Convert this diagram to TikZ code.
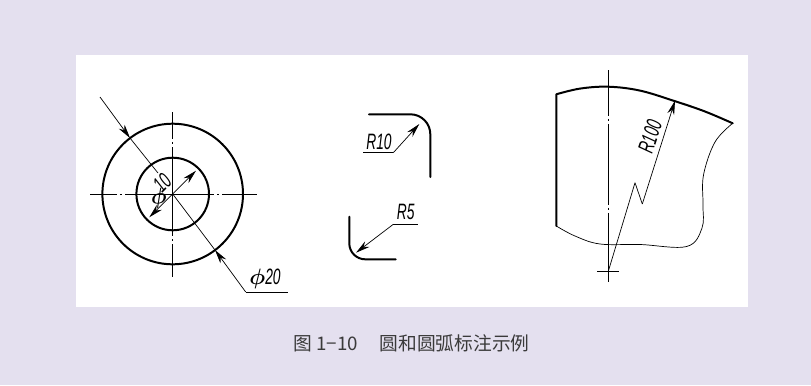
\documentclass[tikz,border=0pt]{standalone}
\usepackage{graphicx}
\usepackage{fontspec}
\setmainfont{Liberation Sans}
\newfontfamily\cjk{Noto Sans CJK SC}
\usetikzlibrary{
		arrows.meta,
		calc
	}
\definecolor{pagebg}{HTML}{E4E0EF}
\definecolor{captiongray}{HTML}{3A3A3A}
\newcommand{\dimtext}[1]{\scalebox{0.62}[1]{\fontsize{19pt}{19pt}\selectfont\itshape #1}}
\newcommand{\dimphi}{\scalebox{1.9}{\boldmath$\phi$}}
\tikzset{
		>={Stealth[length=12pt,width=6pt]},
		outline/.style={line width=1.7pt,line join=round,line cap=round},
		thinline/.style={line width=0.6pt,line join=round},
		axisline/.style={line width=0.55pt,dash pattern=on 23pt off 2.5pt on 2pt off 2.5pt on 76pt off 2.5pt on 2pt off 2.5pt on 30pt}
	}

\begin{document}
\begin{tikzpicture}[x=0.03cm,y=-0.03cm]
          \fill[pagebg] (0,0) rectangle (811,385);
          \useasboundingbox (0,0) rectangle (811,385);
          \fill[white] (76,55) rectangle (748,307);

          % circles
          \coordinate (C) at (172.7,194);
          \coordinate (HL) at (90,194);
          \coordinate (HR) at (257,194);
          \coordinate (VT) at (172.7,112);
          \coordinate (VB) at (172.7,277);
          \coordinate (OS) at (100,97);
          \coordinate (OT) at (130,138);
          \coordinate (OE) at (158,173);
          \coordinate (LT) at (215,250);
          \coordinate (LK) at (245.7,292);
          \coordinate (LE) at (288,292);
          \coordinate (IA) at (149.3,217.3);
          \coordinate (IB) at (196,170.7);

          \draw[outline] (C) circle [radius=70.3];
          \draw[outline] (C) circle [radius=36.3];
          \draw[axisline] (HL) -- (HR);
          \draw[axisline] (VT) -- (VB);
          \draw[thinline,->] (OS) -- (OT);
          \draw[thinline] (OT) -- (OE);
          \draw[thinline] (C) -- (LT);
          \draw[thinline,->] (LK) -- (LT);
          \draw[thinline] (LK) -- (LE);
          \draw[thinline,<->] (IA) -- (IB);
          \node[rotate=45,inner sep=0pt] (phiten) at (160.5,194) {\rotatebox{-40}{\dimphi}\hspace{-6pt}\dimtext{10}};
          \node[inner sep=0pt] (phitwenty) at (265,278.5) {\dimphi\dimtext{20}};

          % fillets
          \coordinate (Aa) at (369,114.3);
          \coordinate (Ab) at (430.3,114.3);
          \coordinate (Ac) at (430.3,177);
          \coordinate (At) at (419.3,124);
          \coordinate (Ak) at (393.3,152.7);
          \coordinate (Ae) at (363,152.7);
          \draw[outline,rounded corners=17pt] (Aa) -- (Ab) -- (Ac);
          \draw[thinline,->] (Ak) -- (At);
          \draw[thinline] (Ak) -- (Ae);
          \node[inner sep=0pt] (rten) at (379,142) {\dimtext{R10}};

          \coordinate (Ba) at (349.3,216.7);
          \coordinate (Bb) at (349.3,259.3);
          \coordinate (Bc) at (395.7,259.3);
          \coordinate (Bt) at (356,252.7);
          \coordinate (Bk) at (393.3,224.3);
          \coordinate (Be) at (417.7,224.3);
          \draw[outline,rounded corners=13.6pt] (Ba) -- (Bb) -- (Bc);
          \draw[thinline,->] (Bk) -- (Bt);
          \draw[thinline] (Bk) -- (Be);
          \node[inner sep=0pt] (rfive) at (405.7,211.7) {\dimtext{R5}};

          % big arc
          \coordinate (P) at (556.3,94.3);
          \coordinate (Q) at (556.3,226);
          \coordinate (R) at (732.7,123.3);
          \coordinate (Vt) at (608.3,70);
          \coordinate (Vb) at (608.3,282);
          \coordinate (Tl) at (597.3,271.3);
          \coordinate (Tr) at (619.3,271.3);
          \coordinate (O) at (608.3,271.3);
          \coordinate (Ka) at (635,182.7);
          \coordinate (Kb) at (642.3,204);
          \coordinate (Kt) at (675,100.7);

          \draw[outline] (Q) -- (P) plot[smooth,tension=0.6] coordinates {(P) (580,88.6) (608.3,86.7) (640,90.6) (675,101.2) (705,111.5) (R)};
          \draw[thinline] plot[smooth,tension=0.6] coordinates {(R) (715,142) (703.5,175) (703,205) (702,228) (686.7,246.5) (640,244.5) (600,244) (575,236) (Q)};
          \draw[axisline,dash pattern=on 39pt off 2.5pt on 2pt off 2.5pt on 69pt off 2.5pt on 2pt off 2.5pt on 60pt] (Vt) -- (Vb);
          \draw[thinline] (Tl) -- (Tr);
          \draw[thinline] (O) -- (Ka) -- (Kb);
          \draw[thinline,->] (Kb) -- (Kt);
          \node[rotate=72,inner sep=0pt] (rhundred) at (650,136.7) {\dimtext{R100}};

          \node[inner sep=0pt,text=captiongray] (caption) at (411.5,343) {\fontsize{16pt}{16pt}\selectfont\cjk 图 1−10\hspace{1.15em}圆和圆弧标注示例};
\end{tikzpicture}
\end{document}
